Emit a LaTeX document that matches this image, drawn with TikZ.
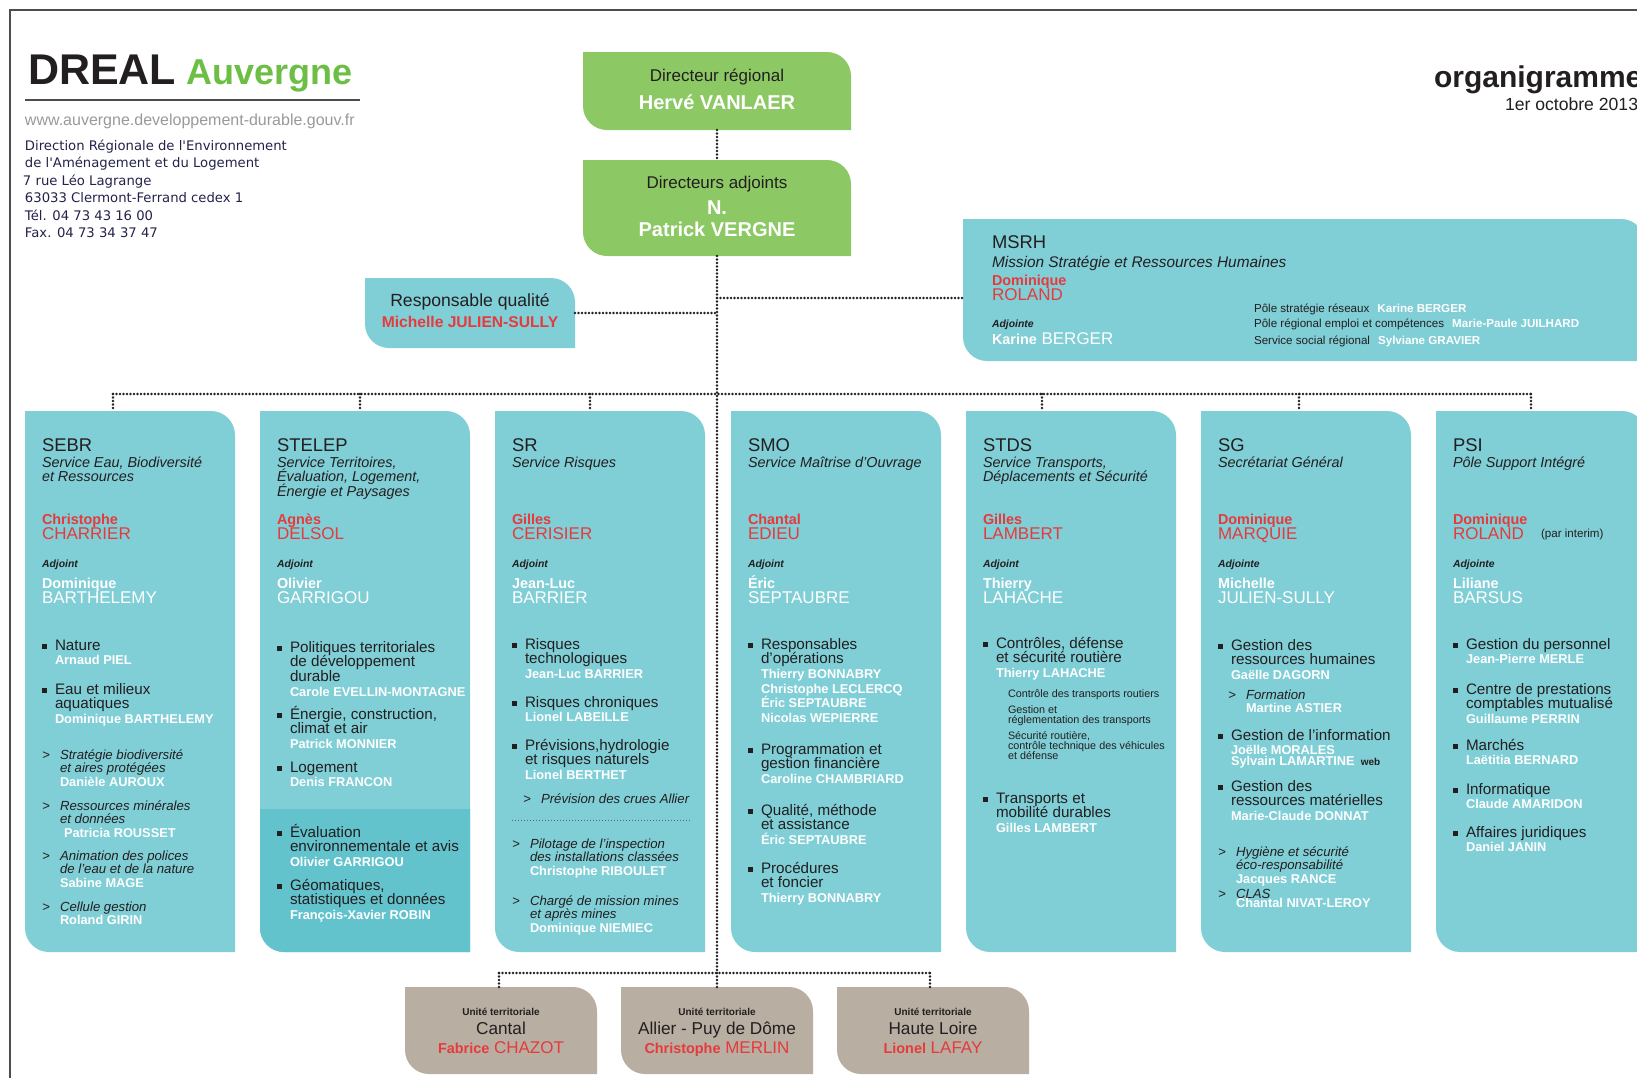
\documentclass[tikz,border=0pt]{standalone}
\usepackage{fontspec}
\setmainfont{Liberation Sans}
\newfontfamily\adressefont{DejaVu Sans}
\usetikzlibrary{positioning}
\definecolor{sombre}{HTML}{231F20}
\definecolor{vert_logo}{HTML}{6DBE45}
\definecolor{vert_boite}{HTML}{8CC864}
\definecolor{bleu_service}{HTML}{80CED6}
\definecolor{bleu_fonce}{HTML}{63C3CD}
\definecolor{taupe_ut}{HTML}{B8AEA2}
\definecolor{rouge_nom}{HTML}{E63A3C}
\definecolor{bleu_adresse}{HTML}{22224A}
\lineskiplimit=-20pt

% boite "feuille" : coins arrondis en haut a droite et en bas a gauche
\newcommand{\feuille}[3][12pt]{%
  \fill[#3] (#2.north west) -- ([xshift=-#1]#2.north east)
    arc[start angle=90, end angle=0, radius=#1] -- (#2.south east)
    -- ([xshift=#1]#2.south west) arc[start angle=270, end angle=180, radius=#1] -- cycle;}
\newcommand{\agent}[2][6.4]{{\color{white}\upshape\bfseries\fontsize{#1}{7}\selectfont #2}}
\newcommand{\prenom}[1]{{\bfseries\fontsize{7.2}{7.5}\selectfont #1}}
\newcommand{\puce}{\llap{\rule[0.4pt]{2.8pt}{2.4pt}\hspace{3.8pt}}}
\newcommand{\fleche}{\llap{{\upshape >}\hspace{5pt}}}
% en-tete d'un service (dans un scope decale sur le coin de la colonne)
% #9 = nombre de lignes de l'intitule
\newcommand{\entete}[9]{%
  \node[titre] (#1-s) at (17,40) {#2};
  \node[sstitre=#9] (#1-i) at (17,56) {#3};
  \node[chef] (#1-c) at (17,113) {\prenom{#4}\\#5};
  \node[adjoint] (#1-a) at (17,156) {#6};
  \node[nomadj] (#1-n) at (17,177) {\prenom{#7}\\#8};}

\begin{document}
\begin{tikzpicture}[x=0.5pt, y=-0.5pt,
    boite/.style 2 args={rectangle, inner sep=0pt, outer sep=0pt, minimum width=#1*0.5pt, minimum height=#2*0.5pt},
    pointille/.style={draw=sombre, line width=1.3pt, dash pattern=on 0pt off 1.75pt, line cap=round},
    texte/.style={inner sep=0pt, outer sep=0pt, anchor=base west, align=left, text=sombre},
    centre/.style={inner sep=0pt, outer sep=0pt, anchor=base, align=center, text=sombre},
    titre/.style={texte, font=\fontsize{9.2}{10}\selectfont},
    sstitre/.style={texte, font=\itshape\fontsize{7.2}{7.25}\selectfont, yshift={-(#1-1)*7.25pt}},
    sstitre/.default=1,
    chef/.style={texte, text=rouge_nom, font=\fontsize{8.5}{7.6}\selectfont, yshift=-7.6pt},
    nomadj/.style={chef, text=white},
    adjoint/.style={texte, font=\bfseries\itshape\fontsize{5.2}{6}\selectfont},
    rubrique/.style={texte, font=\fontsize{7.6}{7.35}\selectfont, yshift={-(#1-1)*7.35pt}},
    rubrique/.default=1,
    sousrub/.style={texte, font=\itshape\fontsize{6.6}{6.8}\selectfont, yshift={-(#1-1)*6.8pt}},
    sousrub/.default=1,
    detail/.style={texte, font=\fontsize{5.4}{5.1}\selectfont, yshift={-(#1-1)*5.1pt}},
    detail/.default=1,
    pole/.style={texte, font=\fontsize{5.8}{7}\selectfont}]

\useasboundingbox (0,0) rectangle (1637,1077);
% cadre de la page
\draw[sombre!80, line width=0.6pt] (10,1100) -- (10,10) -- (1700,10);

% en-tete
\node[texte, font=\bfseries\fontsize{21.5}{22}\selectfont] (dreal) at (28,84) {DREAL};
\node[texte, text=vert_logo, font=\bfseries\fontsize{18}{18}\selectfont, base right=5pt of dreal] (auvergne) {Auvergne};
\draw[sombre!80, line width=0.6pt] (25,100) -- (360,100);
\node[texte, text=black!40, font=\fontsize{8}{8}\selectfont] (site) at (25,125) {www.auvergne.developpement-durable.gouv.fr};
\node[texte, text=bleu_adresse, font=\adressefont\fontsize{6.6}{8.75}\selectfont, yshift=-43.75pt] (adresse) at (25,150)
  {Direction Régionale de l'Environnement\\de l'Aménagement et du Logement\\\hspace*{-1pt}7 rue Léo Lagrange\\63033 Clermont-Ferrand cedex 1\\Tél. 04 73 43 16 00\\Fax. 04 73 34 37 47};
\node[texte, font=\bfseries\fontsize{15}{15}\selectfont] (organi) at (1434,87) {organigramme};
\node[texte, font=\fontsize{8.8}{9}\selectfont] (date) at (1505,110) {1er octobre 2013};

% boites de direction
\node[boite={268}{78}] (dr) at (717,91) {};
\node[boite={268}{96}] (da) at (717,208) {};
\node[boite={210}{70}] (rq) at (470,313) {};
\node[boite={682}{142}] (msrh) at (1304,290) {};
\feuille{dr}{vert_boite}
\feuille{da}{vert_boite}
\feuille{rq}{bleu_service}
\feuille{msrh}{bleu_service}

% colonnes des services
\foreach \c/\x in {sebr/130, stelep/365, sr/600, smo/836, stds/1071, sg/1306, psi/1541}
{
  \node[boite={210}{541}] (\c) at (\x,681.5) {};
  \feuille{\c}{bleu_service}
}
\begin{scope}
  \clip (260,809) rectangle (470,960);
  \feuille{stelep}{bleu_fonce}
\end{scope}

% unites territoriales
\foreach \u/\x in {ut1/501, ut2/717, ut3/933}
{
  \node[boite={192}{87}] (\u) at (\x,1030.5) {};
  \feuille{\u}{taupe_ut}
}

% liaisons
\coordinate (j-msrh) at (717,298);
\coordinate (j-bas) at (717,973);
\draw[pointille] (dr) -- (da);
\draw[pointille] (da) -- (j-bas);
\draw[pointille] (rq) -- (rq -| da);
\draw[pointille] (j-msrh) -- (j-msrh -| msrh.west);
\draw[pointille] (113,394) -- (1531,394);
\foreach \c/\x in {sebr/113, stelep/360, sr/590, stds/1042, sg/1299, psi/1531}
  \draw[pointille] (\x,394) -- (\x,394 |- \c.north);
\draw[pointille] (499,973) -- (930,973);
\foreach \u/\x in {ut1/499, ut2/717, ut3/930}
  \draw[pointille] (\x,973) -- (\x,973 |- \u.north);

% textes de la direction
\node[centre, font=\fontsize{8.5}{9}\selectfont] (dr-t) at (717,81) {Directeur régional};
\node[centre, text=white, font=\bfseries\fontsize{10}{10}\selectfont] (dr-n) at (717,109) {Hervé VANLAER};
\node[centre, font=\fontsize{8.5}{9}\selectfont] (da-t) at (717,188) {Directeurs adjoints};
\node[centre, text=white, font=\bfseries\fontsize{10}{10}\selectfont] (da-n1) at (717,214) {N.};
\node[centre, text=white, font=\bfseries\fontsize{10}{10}\selectfont] (da-n2) at (717,236) {Patrick VERGNE};
\node[centre, font=\fontsize{8.8}{9}\selectfont] (rq-t) at (470,306) {Responsable qualité};
\node[centre, text=rouge_nom, font=\bfseries\fontsize{7.8}{8}\selectfont] (rq-n) at (470,327) {Michelle JULIEN-SULLY};

% MSRH
\begin{scope}[shift={(msrh.north west)}]
  \node[titre] (msrh-s) at (29,29) {MSRH};
  \node[texte, font=\itshape\fontsize{7.7}{8}\selectfont] (msrh-i) at (29,48) {Mission Stratégie et Ressources Humaines};
  \node[chef] (msrh-c) at (29,66) {\prenom{Dominique}\\ROLAND};
  \node[adjoint] (msrh-a) at (29,108) {Adjointe};
  \node[texte, text=white, font=\fontsize{8.5}{9}\selectfont] (msrh-n) at (29,125) {\prenom{Karine} BERGER};
  \node[pole] (msrh-p1) at (291,93) {Pôle stratégie réseaux\hspace{4pt}\agent[5.8]{Karine BERGER}};
  \node[pole] (msrh-p2) at (291,108) {Pôle régional emploi et compétences\hspace{4pt}\agent[5.8]{Marie-Paule JUILHARD}};
  \node[pole] (msrh-p3) at (291,125) {Service social régional\hspace{4pt}\agent[5.8]{Sylviane GRAVIER}};
\end{scope}

% SEBR
\begin{scope}[shift={(sebr.north west)}]
  \entete{sebr}{SEBR}{Service Eau, Biodiversité\\et Ressources}{Christophe}{CHARRIER}{Adjoint}{Dominique}{BARTHELEMY}{2}
  \node[rubrique=2] (sebr-r1) at (30,239) {\puce Nature\\\agent{Arnaud PIEL}};
  \node[rubrique=3] (sebr-r2) at (30,283) {\puce Eau et milieux\\aquatiques\\\agent{Dominique BARTHELEMY}};
  \node[sousrub=3] (sebr-r3) at (35,348) {\fleche Stratégie biodiversité\\et aires protégées\\\agent{Danièle AUROUX}};
  \node[sousrub=3] (sebr-r4) at (35,399) {\fleche Ressources minérales\\et données\\\agent{\hspace{2pt}Patricia ROUSSET}};
  \node[sousrub=3] (sebr-r5) at (35,449) {\fleche Animation des polices\\de l'eau et de la nature\\\agent{Sabine MAGE}};
  \node[sousrub=2] (sebr-r6) at (35,500) {\fleche Cellule gestion\\\agent{Roland GIRIN}};
\end{scope}

% STELEP
\begin{scope}[shift={(stelep.north west)}]
  \entete{stelep}{STELEP}{Service Territoires,\\Évaluation, Logement,\\Énergie et Paysages}{Agnès}{DELSOL}{Adjoint}{Olivier}{GARRIGOU}{3}
  \node[rubrique=4] (stelep-r1) at (30,241) {\puce Politiques territoriales\\de développement\\durable\\\agent{Carole EVELLIN-MONTAGNE}};
  \node[rubrique=3] (stelep-r2) at (30,308) {\puce Énergie, construction,\\climat et air\\\agent{Patrick MONNIER}};
  \node[rubrique=2] (stelep-r3) at (30,361) {\puce Logement\\\agent{Denis FRANCON}};
  \node[rubrique=3] (stelep-r4) at (30,426) {\puce Évaluation\\environnementale et avis\\\agent{Olivier GARRIGOU}};
  \node[rubrique=3] (stelep-r5) at (30,479) {\puce Géomatiques,\\statistiques et données\\\agent{François-Xavier ROBIN}};
\end{scope}

% SR
\begin{scope}[shift={(sr.north west)}]
  \entete{sr}{SR}{Service Risques}{Gilles}{CERISIER}{Adjoint}{Jean-Luc}{BARRIER}{1}
  \node[rubrique=3] (sr-r1) at (30,238) {\puce Risques\\technologiques\\\agent{Jean-Luc BARRIER}};
  \node[rubrique=2] (sr-r2) at (30,296) {\puce Risques chroniques\\\agent{Lionel LABEILLE}};
  \node[rubrique=3] (sr-r3) at (30,339) {\puce Prévisions,hydrologie\\et risques naturels\\\agent{Lionel BERTHET}};
  \node[sousrub] (sr-r4) at (46,392) {\fleche Prévision des crues Allier};
  \draw[sombre!70, line width=0.5pt, dash pattern=on 0.6pt off 0.9pt] (17,409) -- (196,409);
  \node[sousrub=3] (sr-r5) at (35,437) {\fleche Pilotage de l'inspection\\des installations classées\\\agent{Christophe RIBOULET}};
  \node[sousrub=3] (sr-r6) at (35,494) {\fleche Chargé de mission mines\\et après mines\\\agent{Dominique NIEMIEC}};
\end{scope}

% SMO
\begin{scope}[shift={(smo.north west)}]
  \entete{smo}{SMO}{Service Maîtrise d'Ouvrage}{Chantal}{EDIEU}{Adjoint}{Éric}{SEPTAUBRE}{1}
  \node[rubrique=6] (smo-r1) at (30,238) {\puce Responsables\\d'opérations\\\agent{Thierry BONNABRY}\\\agent{Christophe LECLERCQ}\\\agent{Éric SEPTAUBRE}\\\agent{Nicolas WEPIERRE}};
  \node[rubrique=3] (smo-r2) at (30,343) {\puce Programmation et\\gestion financière\\\agent{Caroline CHAMBRIARD}};
  \node[rubrique=3] (smo-r3) at (30,404) {\puce Qualité, méthode\\et assistance\\\agent{Éric SEPTAUBRE}};
  \node[rubrique=3] (smo-r4) at (30,462) {\puce Procédures\\et foncier\\\agent{Thierry BONNABRY}};
\end{scope}

% STDS
\begin{scope}[shift={(stds.north west)}]
  \entete{stds}{STDS}{Service Transports,\\Déplacements et Sécurité}{Gilles}{LAMBERT}{Adjoint}{Thierry}{LAHACHE}{2}
  \node[rubrique=3] (stds-r1) at (30,237) {\puce Contrôles, défense\\et sécurité routière\\\agent{Thierry LAHACHE}};
  \node[detail] (stds-d1) at (42,286) {Contrôle des transports routiers};
  \node[detail=2] (stds-d2) at (42,302) {Gestion et\\réglementation des transports};
  \node[detail=3] (stds-d3) at (42,328) {Sécurité routière,\\contrôle technique des véhicules\\et défense};
  \node[rubrique=3] (stds-r2) at (30,392) {\puce Transports et\\mobilité durables\\\agent{Gilles LAMBERT}};
\end{scope}

% SG
\begin{scope}[shift={(sg.north west)}]
  \entete{sg}{SG}{Secrétariat Général}{Dominique}{MARQUIE}{Adjointe}{Michelle}{JULIEN-SULLY}{1}
  \node[rubrique=3] (sg-r1) at (30,239) {\puce Gestion des\\ressources humaines\\\agent{Gaëlle DAGORN}};
  \node[sousrub=2] (sg-r2) at (45,288) {\fleche Formation\\\agent{Martine ASTIER}};
  \node[rubrique=3, yshift=2pt] (sg-r3) at (30,329) {\puce Gestion de l'information\\\agent{Joëlle MORALES}\\[-2pt]\agent{Sylvain LAMARTINE}\hspace{3pt}{\bfseries\fontsize{5}{5}\selectfont web}};
  \node[rubrique=3] (sg-r4) at (30,380) {\puce Gestion des\\ressources matérielles\\\agent{Marie-Claude DONNAT}};
  \node[sousrub=3] (sg-r5) at (35,445) {\fleche Hygiène et sécurité\\éco-responsabilité\\\agent{Jacques RANCE}};
  \node[sousrub=2, yshift=2pt] (sg-r6) at (35,487) {\fleche CLAS\\[-2pt]\agent{Chantal NIVAT-LEROY}};
\end{scope}

% PSI
\begin{scope}[shift={(psi.north west)}]
  \entete{psi}{PSI}{Pôle Support Intégré}{Dominique}{ROLAND}{Adjointe}{Liliane}{BARSUS}{1}
  \node[pole] (psi-pi) at (105,126) {(par interim)};
  \node[rubrique=2] (psi-r1) at (30,238) {\puce Gestion du personnel\\\agent{Jean-Pierre MERLE}};
  \node[rubrique=3] (psi-r2) at (30,283) {\puce Centre de prestations\\comptables mutualisé\\\agent{Guillaume PERRIN}};
  \node[rubrique=2] (psi-r3) at (30,339) {\puce Marchés\\\agent{Laëtitia BERNARD}};
  \node[rubrique=2] (psi-r4) at (30,383) {\puce Informatique\\\agent{Claude AMARIDON}};
  \node[rubrique=2] (psi-r5) at (30,426) {\puce Affaires juridiques\\\agent{Daniel JANIN}};
\end{scope}

% textes des unites territoriales
\foreach \u/\lieu/\p/\n in {ut1/Cantal/Fabrice/CHAZOT, ut2/Allier - Puy de Dôme/Christophe/MERLIN, ut3/Haute Loire/Lionel/LAFAY}
{
  \begin{scope}[shift={(\u.north)}]
    \node[centre, font=\bfseries\fontsize{5}{5}\selectfont] (\u-l) at (0,28) {Unité territoriale};
    \node[centre, font=\fontsize{8.6}{9}\selectfont] (\u-t) at (0,47) {\lieu};
    \node[centre, text=rouge_nom, font=\fontsize{8.5}{9}\selectfont] (\u-c) at (0,66) {\prenom{\p} \n};
  \end{scope}
}
\end{tikzpicture}
\end{document}
